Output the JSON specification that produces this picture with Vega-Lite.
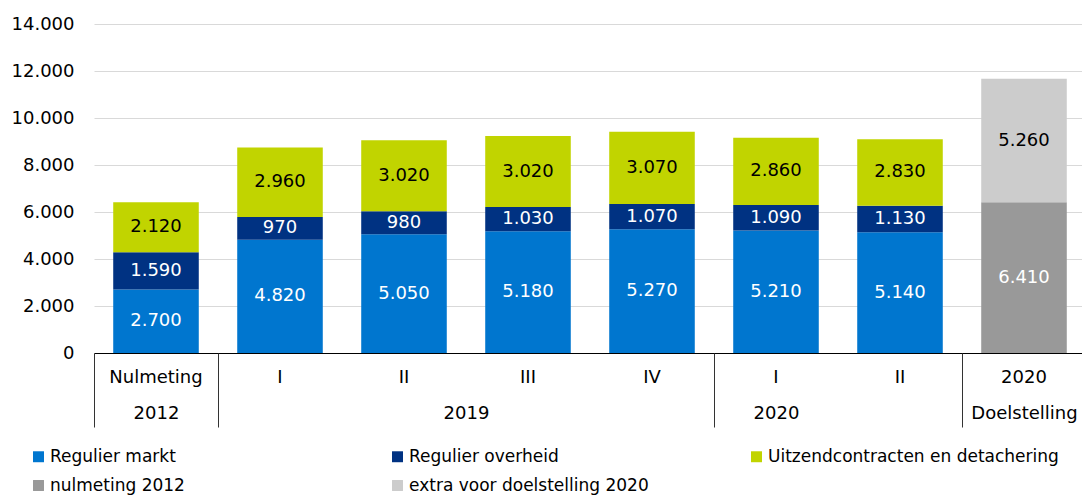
{
  "$schema": "https://vega.github.io/schema/vega-lite/v6.json",
  "width": 992,
  "height": 329,
  "autosize": "none",
  "padding": {"left": 94, "top": 24, "right": 0, "bottom": 142},
  "background": "white",
  "config": {
    "font": "DejaVu Sans",
    "view": {"stroke": null},
    "locale": {"number": {"decimal": ",", "thousands": ".", "grouping": [3], "currency": ["€", ""]}}
  },
  "data": {
    "values": [
      {"cat": "Nulmeting|2012", "s": "Regulier markt", "o": 1, "value": 2700},
      {"cat": "Nulmeting|2012", "s": "Regulier overheid", "o": 2, "value": 1590},
      {"cat": "Nulmeting|2012", "s": "Uitzendcontracten en detachering", "o": 3, "value": 2120},
      {"cat": "I|2019", "s": "Regulier markt", "o": 1, "value": 4820},
      {"cat": "I|2019", "s": "Regulier overheid", "o": 2, "value": 970},
      {"cat": "I|2019", "s": "Uitzendcontracten en detachering", "o": 3, "value": 2960},
      {"cat": "II|2019", "s": "Regulier markt", "o": 1, "value": 5050},
      {"cat": "II|2019", "s": "Regulier overheid", "o": 2, "value": 980},
      {"cat": "II|2019", "s": "Uitzendcontracten en detachering", "o": 3, "value": 3020},
      {"cat": "III|2019", "s": "Regulier markt", "o": 1, "value": 5180},
      {"cat": "III|2019", "s": "Regulier overheid", "o": 2, "value": 1030},
      {"cat": "III|2019", "s": "Uitzendcontracten en detachering", "o": 3, "value": 3020},
      {"cat": "IV|2019", "s": "Regulier markt", "o": 1, "value": 5270},
      {"cat": "IV|2019", "s": "Regulier overheid", "o": 2, "value": 1070},
      {"cat": "IV|2019", "s": "Uitzendcontracten en detachering", "o": 3, "value": 3070},
      {"cat": "I|2020", "s": "Regulier markt", "o": 1, "value": 5210},
      {"cat": "I|2020", "s": "Regulier overheid", "o": 2, "value": 1090},
      {"cat": "I|2020", "s": "Uitzendcontracten en detachering", "o": 3, "value": 2860},
      {"cat": "II|2020", "s": "Regulier markt", "o": 1, "value": 5140},
      {"cat": "II|2020", "s": "Regulier overheid", "o": 2, "value": 1130},
      {"cat": "II|2020", "s": "Uitzendcontracten en detachering", "o": 3, "value": 2830},
      {"cat": "2020|Doelstelling", "s": "nulmeting 2012", "o": 4, "value": 6410},
      {"cat": "2020|Doelstelling", "s": "extra voor doelstelling 2020", "o": 5, "value": 5260}
    ]
  },
  "transform": [
    {"stack": "value", "groupby": ["cat"], "sort": [{"field": "o", "order": "ascending"}], "as": ["y0", "y1"]}
  ],
  "layer": [
    {
      "encoding": {
        "x": {
          "field": "cat", "type": "nominal", "sort": null,
          "scale": {"paddingInner": 0.31, "paddingOuter": 0.155},
          "axis": {
            "orient": "bottom", "title": null, "labelExpr": "split(datum.value, '|')[0]", "labelAngle": 0,
            "ticks": false, "labelPadding": 15, "labelFontSize": 18, "labelColor": "#000000",
            "domainColor": "#000000", "domainWidth": 1, "grid": false
          }
        }
      },
      "layer": [
        {
          "mark": {"type": "bar"},
          "encoding": {
            "y": {
              "field": "y0", "type": "quantitative",
              "scale": {"domain": [0, 14000], "nice": false},
              "axis": {
                "title": null, "values": [0, 2000, 4000, 6000, 8000, 10000, 12000, 14000],
                "format": ",d", "domain": false, "ticks": false, "labelPadding": 20,
                "labelFontSize": 18, "labelColor": "#000000", "gridColor": "#d9d9d9", "gridWidth": 1
              }
            },
            "y2": {"field": "y1"},
            "color": {
              "field": "s", "type": "nominal",
              "scale": {
                "domain": ["Regulier markt", "Regulier overheid", "Uitzendcontracten en detachering", "nulmeting 2012", "extra voor doelstelling 2020"],
                "range": ["#0076cf", "#003282", "#c1d400", "#999999", "#cccccc"]
              },
              "legend": {
                "title": null, "orient": "none", "legendX": -64, "legendY": 424,
                "direction": "horizontal", "columns": 3, "gridAlign": "all",
                "columnPadding": 48, "rowPadding": 11,
                "symbolType": "square", "symbolSize": 120, "symbolStrokeWidth": 0, "labelOffset": 3,
                "labelFontSize": 17, "labelColor": "#000000", "labelLimit": 400
              }
            }
          }
        },
        {
          "transform": [
            {"fold": ["y0", "y1"], "as": ["edge", "pos"]},
            {"aggregate": [{"op": "mean", "field": "pos", "as": "mid"}, {"op": "max", "field": "value", "as": "value"}], "groupby": ["cat", "s"]}
          ],
          "mark": {"type": "text", "fontSize": 18, "baseline": "middle", "align": "center"},
          "encoding": {
            "y": {"field": "mid", "type": "quantitative"},
            "text": {"field": "value", "type": "quantitative", "format": ",d"},
            "color": {
              "condition": {"test": "datum.s === 'Uitzendcontracten en detachering' || datum.s === 'extra voor doelstelling 2020'", "value": "#000000"},
              "value": "#ffffff"
            }
          }
        }
      ]
    },
    {
      "mark": {"type": "rule", "opacity": 0},
      "encoding": {
        "x": {
          "datum": 0, "type": "quantitative",
          "scale": {"domain": [0, 8], "nice": false, "zero": false},
          "axis": {
            "orient": "bottom", "title": null, "domain": false, "grid": false,
            "values": [0, 0.5, 1, 3, 5, 5.5, 7, 7.5],
            "labelExpr": "datum.value == 0.5 ? '2012' : datum.value == 3 ? '2019' : datum.value == 5.5 ? '2020' : datum.value == 7.5 ? 'Doelstelling' : ''",
            "tickSize": 74, "tickColor": "#333333", "tickWidth": 1,
            "tickOpacity": {"condition": {"test": "datum.value === 0 || datum.value === 1 || datum.value === 5 || datum.value === 7", "value": 1}, "value": 0},
            "labelPadding": -23, "labelFontSize": 18, "labelColor": "#000000", "labelFlush": false, "labelOverlap": false
          }
        }
      }
    }
  ],
  "resolve": {"scale": {"x": "independent"}, "axis": {"x": "independent"}}
}
